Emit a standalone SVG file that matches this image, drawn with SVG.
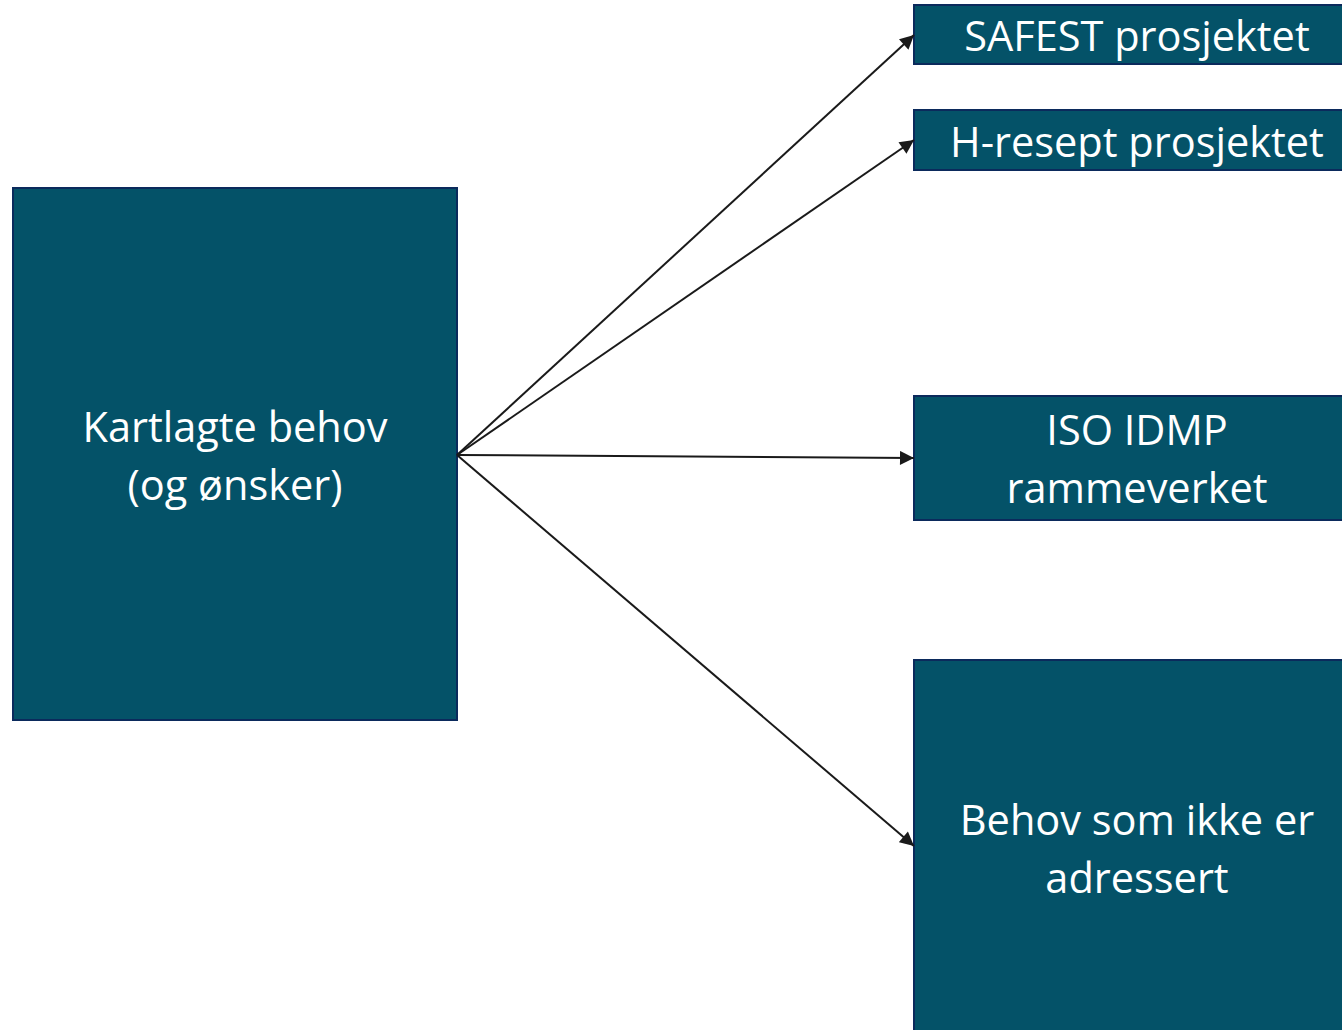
<svg xmlns="http://www.w3.org/2000/svg" width="1342" height="1030" viewBox="0 0 1342 1030">
<style>
.box{fill:#045268;stroke:#0b2a5c;stroke-width:2}
.t{font-family:"Open Sans","Noto Sans",sans-serif;font-size:41.5px;fill:#ffffff;text-anchor:middle}
.c{stroke:#1a1a1a;stroke-width:2;fill:none;marker-end:url(#ah)}
</style>
<defs>
<marker id="ah" viewBox="0 0 10 10" refX="10" refY="5" markerWidth="15" markerHeight="14" markerUnits="userSpaceOnUse" orient="auto">
<path d="M0,0 L10,5 L0,10 z" fill="#1a1a1a"/>
</marker>
</defs>
<g id="n-left"><rect class="box" x="13" y="188" width="444" height="532"/>
<text class="t" x="235" y="442">Kartlagte behov</text><text class="t" x="235" y="500">(og ønsker)</text></g>
<g id="n-safest"><rect class="box" x="914" y="5" width="430" height="59"/>
<text class="t" x="1137" y="51">SAFEST prosjektet</text></g>
<g id="n-hresept"><rect class="box" x="914" y="110" width="430" height="60"/>
<text class="t" x="1137" y="157">H-resept prosjektet</text></g>
<g id="n-iso"><rect class="box" x="914" y="396" width="430" height="124"/>
<text class="t" x="1137" y="445">ISO IDMP</text><text class="t" x="1137" y="503">rammeverket</text></g>
<g id="n-behov"><rect class="box" x="914" y="660" width="430" height="380"/>
<text class="t" x="1137" y="835">Behov som ikke er</text><text class="t" x="1137" y="893">adressert</text></g>
<g id="connectors">
<path class="c" d="M457,455 L914,35"/>
<path class="c" d="M457,455 L914,140"/>
<path class="c" d="M457,455 L914,458"/>
<path class="c" d="M457,455 L914,846"/>
</g>
</svg>
